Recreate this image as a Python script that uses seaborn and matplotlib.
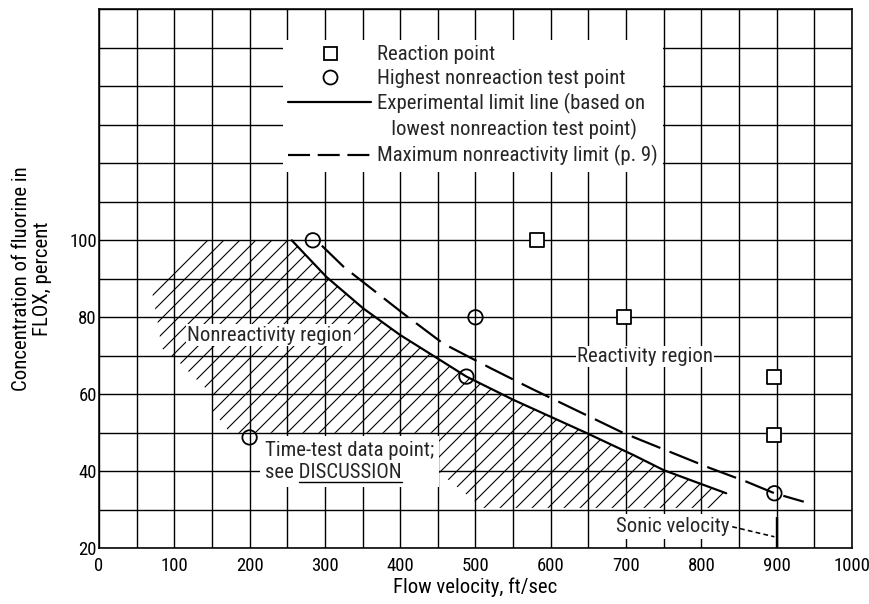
import numpy as np
import matplotlib
matplotlib.use("Agg")
import matplotlib.pyplot as plt
import seaborn as sns
from matplotlib import font_manager
from matplotlib.lines import Line2D

# reaction points (squares)
reaction_v = [582, 697, 897, 897]
reaction_c = [100, 80, 64.5, 49.5]

# highest nonreaction test points (circles)
nonreact_v = [284, 500, 488, 200, 897]
nonreact_c = [100, 80, 64.6, 48.8, 34.3]

# experimental limit line
limit_v = [256, 302, 351, 400, 449, 488, 551, 648, 710, 750, 790, 833]
limit_c = [100, 90.5, 82.3, 75.4, 69.4, 64.6, 58.5, 49.9, 44.2, 40.3, 37.4, 34.3]

# maximum nonreactivity limit (p. 9)
maxlim_v = [296, 325, 404, 457, 520, 573, 697, 812, 860, 897, 936]
maxlim_c = [98.6, 93.1, 81.0, 73.2, 66.8, 61.6, 49.9, 40.8, 37.3, 34.3, 32.1]

# rest of the outline of the hatched region (the upper right side is the limit line)
region_v = [815, 510, 450, 450, 174, 150, 150, 121, 103, 96, 83, 77, 70, 134]
region_c = [30.5, 30.5, 40, 50, 50, 56, 60, 65.5, 69, 70, 72, 80, 87, 100]

sonic_v = 900
sonic_top = 28.2

x_ticks = np.arange(0, 1001, 100)
y_ticks = [20, 40, 60, 80, 100]

DPI = 144


def pick_font():
    entries = font_manager.fontManager.ttflist
    names = {f.name for f in entries}
    for fam in ['Liberation Sans Narrow', 'Roboto Condensed', 'Open Sans Condensed',
                'Noto Sans Condensed']:
        if fam in names:
            return fam, 'normal', 1.0
    for f in entries:
        if f.name == 'DejaVu Sans' and f.stretch != 'normal':
            return 'DejaVu Sans', f.stretch, 0.92
    return 'DejaVu Sans', 'normal', 0.82


sns.set_theme(style='white')
family, stretch, scale = pick_font()
plt.rcParams['font.family'] = [family, 'DejaVu Sans']
plt.rcParams['font.stretch'] = stretch
plt.rcParams['hatch.linewidth'] = 0.55
plt.rcParams['axes.axisbelow'] = True

fs = 10.4 * scale
tick_fs = 9.4 * scale

fig = plt.figure(figsize=(869 / DPI, 604 / DPI), dpi=DPI)
ax = fig.add_axes([0.1139, 0.0922, 0.8665, 0.8924])
ax.set_xlim(0, 1000)
ax.set_ylim(20, 160)

# hatched nonreactivity region
poly_v = limit_v + region_v
poly_c = limit_c + region_c
ax.fill(poly_v, poly_c, facecolor='none', edgecolor='black', linewidth=0,
        hatch='///', zorder=1)

# curves
sns.lineplot(x=limit_v, y=limit_c, color='black', lw=1.1, sort=False,
             estimator=None, ax=ax, zorder=3)
sns.lineplot(x=maxlim_v, y=maxlim_c, color='black', lw=1.1, sort=False,
             estimator=None, ax=ax, zorder=3, linestyle=(0, (14, 4.5)))

# points
sns.scatterplot(x=reaction_v, y=reaction_c, marker='s', s=44, color='white',
                edgecolor='black', linewidth=0.9, ax=ax, zorder=5)
sns.scatterplot(x=nonreact_v, y=nonreact_c, marker='o', s=52, color='white',
                edgecolor='black', linewidth=0.9, ax=ax, zorder=5)
ax.collections[-1].set_facecolor('none')

# sonic velocity marker
ax.vlines(sonic_v, 20, sonic_top, colors='black', lw=1.2, zorder=4)
ax.text(838, 25.6, 'Sonic velocity', ha='right', va='center', fontsize=fs,
        zorder=6, bbox=dict(fc='white', ec='none', pad=1.5))
ax.plot([841, sonic_v - 3], [25.6, 23], color='black', lw=0.8,
        ls=(0, (3, 2)), zorder=6)

# region labels
ax.text(227, 75.4, 'Nonreactivity region', ha='center', va='center', fontsize=fs,
        zorder=6, bbox=dict(fc='white', ec='none', pad=0.6))
ax.text(725, 69.8, 'Reactivity region', ha='center', va='center', fontsize=fs,
        zorder=6, bbox=dict(fc='white', ec='none', pad=0.6))
tt = ax.text(220.5, 42.6, 'Time-test data point;\nsee DISCUSSION', ha='left',
             va='center', fontsize=fs, linespacing=1.2, zorder=6,
             bbox=dict(fc='white', ec='none', pad=2.5))

# grid and ticks
ax.set_xticks(x_ticks)
ax.set_xticks(np.arange(0, 1001, 50), minor=True)
ax.set_yticks(y_ticks)
ax.set_yticks(np.arange(20, 161, 10), minor=True)
ax.grid(which='both', color='black', lw=0.7)
ax.tick_params(which='both', length=0, labelsize=tick_fs, colors='black')
ax.tick_params(axis='x', pad=4.5)
ax.tick_params(axis='y', pad=1)
for sp in ax.spines.values():
    sp.set_color('black')
    sp.set_linewidth(0.8)

ax.set_xlabel('Flow velocity, ft/sec', fontsize=fs, color='black')
ax.set_ylabel('Concentration of fluorine in\nFLOX, percent', fontsize=fs,
              color='black', linespacing=1.15)
ax.xaxis.set_label_coords(0.5, -0.055)
ax.yaxis.set_label_coords(-0.062, 0.5)

# legend
handles = [
    Line2D([], [], marker='s', ls='none', mfc='white', mec='black', ms=6.5, mew=0.9),
    Line2D([], [], marker='o', ls='none', mfc='white', mec='black', ms=7, mew=0.9),
    Line2D([], [], color='black', lw=1.1),
    Line2D([], [], ls='none'),
    Line2D([], [], color='black', lw=1.1, ls=(0, (10, 3.5))),
]
labels = [
    'Reaction point',
    'Highest nonreaction test point',
    'Experimental limit line (based on',
    '   lowest nonreaction test point)',
    'Maximum nonreactivity limit (p. 9)',
]
leg = ax.legend(handles, labels, loc='upper left', bbox_to_anchor=(0.2444, 0.943),
                fontsize=fs, frameon=True, facecolor='white', edgecolor='none',
                framealpha=1, fancybox=False, borderpad=0.25, labelspacing=0.24,
                handlelength=4.0, handletextpad=0.25, borderaxespad=0)
leg.set_zorder(7)

# underline under DISCUSSION
fig.canvas.draw()
r = fig.canvas.get_renderer()
bb = tt.get_window_extent(r)
probe1 = ax.text(0, 0, 'see ', fontsize=fs)
probe2 = ax.text(0, 0, 'see DISCUSSION', fontsize=fs)
w1 = probe1.get_window_extent(r).width
w2 = probe2.get_window_extent(r).width
probe1.remove()
probe2.remove()
inv = ax.transData.inverted()
(ux0, uy), (ux1, _) = inv.transform([(bb.x0 + w1, bb.y0), (bb.x0 + w2, bb.y0)])
ax.plot([ux0, ux1], [uy, uy], color='black', lw=0.7, zorder=7)

fig.savefig('out.png', dpi=DPI)
